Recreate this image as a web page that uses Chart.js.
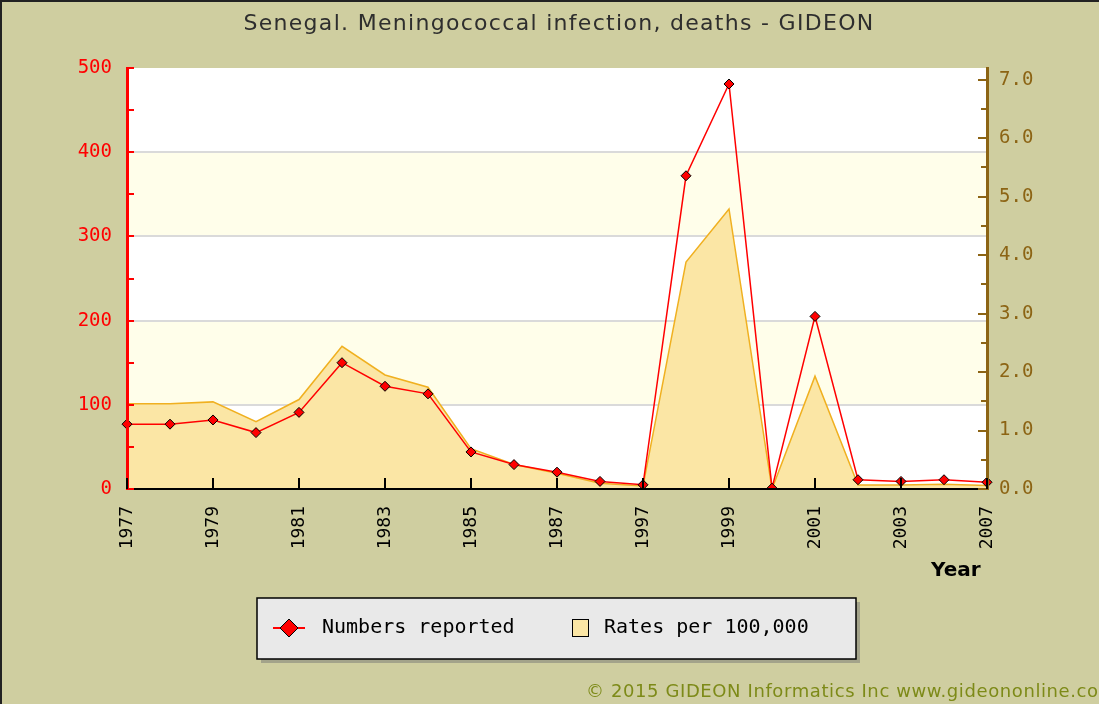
<!DOCTYPE html>
<html>
<head>
<meta charset="utf-8">
<script src="https://cdn.jsdelivr.net/npm/chart.js@4"></script>
<style>
    html, body { margin: 0; padding: 0; background: #cfcea0; }
    #wrap { width: 1099px; height: 704px; }
</style>
</head>
<body>
<div id="wrap"><canvas id="chart" width="1099" height="704"></canvas></div>
<script>
const years = ['1977', '1978', '1979', '1980', '1981', '1982', '1983', '1984', '1985', '1986', '1987',
    '1988', '1997', '1998', '1999', '2000', '2001', '2002', '2003', '2005', '2007'];
const numbersReported = [77, 77, 82, 67, 91, 150, 122, 113, 44, 29, 20, 9, 5, 372, 481, 1, 205, 11, 9, 11, 8];
const ratesPer100k = [1.46, 1.46, 1.49, 1.15, 1.53, 2.44, 1.95, 1.74, 0.69, 0.42, 0.27, 0.10, 0.05,
    3.88, 4.79, 0, 1.93, 0.07, 0.07, 0.08, 0.06];
const leftMax = 500;
const rightMax = 7.2;

const BG = '#cfcea0';
const RED = '#ff0000';
const BROWN = '#8c6414';
const FILL = '#fbe6a5';
const ORANGE = '#f0b020';
const MONO = "'DejaVu Sans Mono', monospace";

// bands, inner ticks, title, legend, footer
const decor = {
    id: 'decor',
    beforeDraw(chart) {
        const { ctx, chartArea: a, scales } = chart;
        ctx.save();
        ctx.fillStyle = BG;
        ctx.fillRect(0, 0, chart.width, chart.height);
        ctx.fillStyle = '#ffffff';
        ctx.fillRect(a.left, a.top, a.right - a.left, a.bottom - a.top);
        ctx.fillStyle = '#fffeea';
        [[100, 200], [300, 400]].forEach(([lo, hi]) => {
            const y1 = scales.y.getPixelForValue(hi);
            const y2 = scales.y.getPixelForValue(lo);
            ctx.fillRect(a.left, y1, a.right - a.left, y2 - y1);
        });
        // frame edges
        ctx.fillStyle = '#222';
        ctx.fillRect(0, 0, chart.width, 2);
        ctx.fillRect(0, 0, 2, chart.height);
        ctx.restore();
    },
    afterDraw(chart) {
        const { ctx, chartArea: a, scales } = chart;
        ctx.save();
        ctx.lineWidth = 2;

        // inner ticks, left axis
        ctx.strokeStyle = RED;
        for (let v = 0; v <= leftMax; v += 50) {
            const y = Math.round(scales.y.getPixelForValue(v));
            ctx.beginPath(); ctx.moveTo(a.left, y); ctx.lineTo(a.left + 7, y); ctx.stroke();
        }
        // inner ticks, right axis
        ctx.strokeStyle = BROWN;
        for (let v = 0; v <= 7; v += 0.5) {
            const y = Math.round(scales.y1.getPixelForValue(v));
            const len = v % 1 === 0 ? 9 : 6;
            ctx.beginPath(); ctx.moveTo(a.right, y); ctx.lineTo(a.right - len, y); ctx.stroke();
        }
        // inner ticks, x axis
        ctx.strokeStyle = '#000';
        years.forEach((_, i) => {
            if (i % 2) return;
            const x = Math.round(scales.x.getPixelForValue(i));
            ctx.beginPath(); ctx.moveTo(x, a.bottom); ctx.lineTo(x, a.bottom - 11); ctx.stroke();
        });

        // title
        ctx.fillStyle = '#2e2e2e';
        ctx.font = "22px 'DejaVu Sans'";
        ctx.letterSpacing = '1.3px';
        ctx.textAlign = 'center';
        ctx.textBaseline = 'middle';
        ctx.fillText('Senegal. Meningococcal infection, deaths - GIDEON', (a.left + a.right) / 2 + 2, 24);
        ctx.letterSpacing = '0px';

        // axis title
        ctx.fillStyle = '#000';
        ctx.font = "bold 20px 'DejaVu Sans'";
        ctx.textAlign = 'left';
        ctx.fillText('Year', 931, 571);

        // legend box
        const lx = 257, ly = 598, lw = 599, lh = 61;
        ctx.fillStyle = '#a3a38a';
        ctx.fillRect(lx + 4, ly + 4, lw, lh);
        ctx.fillStyle = '#e9e9e9';
        ctx.fillRect(lx, ly, lw, lh);
        ctx.strokeStyle = '#000';
        ctx.lineWidth = 1.5;
        ctx.strokeRect(lx, ly, lw, lh);

        const ds = chart.data.datasets;
        const cy = ly + 30;
        ctx.strokeStyle = RED;
        ctx.lineWidth = 2;
        ctx.beginPath(); ctx.moveTo(273, cy); ctx.lineTo(305, cy); ctx.stroke();
        ctx.fillStyle = RED;
        ctx.strokeStyle = '#000';
        ctx.lineWidth = 1;
        ctx.beginPath();
        ctx.moveTo(289, cy - 9); ctx.lineTo(298, cy); ctx.lineTo(289, cy + 9); ctx.lineTo(280, cy);
        ctx.closePath(); ctx.fill(); ctx.stroke();

        ctx.fillStyle = FILL;
        ctx.fillRect(572, cy - 8, 16, 17);
        ctx.strokeRect(572.5, cy - 8.5, 16, 17);

        ctx.fillStyle = '#000';
        ctx.font = '20px ' + MONO;
        ctx.fillText(ds[0].label, 322, cy);
        ctx.fillText(ds[1].label, 604, cy);

        // footer
        ctx.fillStyle = '#7d8a18';
        ctx.font = "18px 'DejaVu Sans'";
        ctx.letterSpacing = '0.6px';
        ctx.fillText('\u00a9 2015 GIDEON Informatics Inc www.gideononline.com', 586, 692);
        ctx.letterSpacing = '0px';
        ctx.restore();
    }
};

new Chart(document.getElementById('chart'), {
    type: 'line',
    data: {
        labels: years,
        datasets: [
            {
                label: 'Numbers reported',
                data: numbersReported,
                yAxisID: 'y',
                borderColor: RED,
                borderWidth: 1.5,
                pointStyle: 'rectRot',
                pointRadius: 5,
                pointBackgroundColor: RED,
                pointBorderColor: '#000',
                pointBorderWidth: 1,
                tension: 0,
                fill: false,
                order: 0
            },
            {
                label: 'Rates per 100,000',
                data: ratesPer100k,
                yAxisID: 'y1',
                borderColor: ORANGE,
                borderWidth: 1.5,
                backgroundColor: FILL,
                pointRadius: 0,
                tension: 0,
                fill: 'origin',
                order: 1
            }
        ]
    },
    options: {
        responsive: false,
        animation: false,
        devicePixelRatio: 1,
        layout: { padding: { top: 68, left: 0, right: 0, bottom: 0 } },
        plugins: {
            legend: { display: false },
            title: { display: false },
            tooltip: { enabled: false }
        },
        scales: {
            x: {
                offset: false,
                grid: { display: false },
                border: { color: '#000', width: 2, z: 1 },
                ticks: {
                    autoSkip: false,
                    minRotation: 90,
                    maxRotation: 90,
                    padding: 9,
                    color: '#000',
                    font: { family: MONO, size: 18 },
                    callback: (v, i) => (i % 2 === 0 ? years[i] : '')
                },
                afterFit: s => { s.height = 215; }
            },
            y: {
                position: 'left',
                min: 0,
                max: leftMax,
                grid: {
                    drawTicks: false,
                    lineWidth: 2,
                    color: c => (c.tick && c.tick.value > 0 && c.tick.value < leftMax ? '#dadada' : 'rgba(0,0,0,0)')
                },
                border: { color: RED, width: 3, z: 1 },
                ticks: {
                    stepSize: 100,
                    padding: 15,
                    color: RED,
                    font: { family: MONO, size: 19 }
                },
                afterFit: s => { s.width = 127; }
            },
            y1: {
                position: 'right',
                min: 0,
                max: rightMax,
                grid: { display: false, drawTicks: false },
                border: { color: BROWN, width: 3, z: 1 },
                ticks: {
                    stepSize: 1,
                    includeBounds: false,
                    padding: 12,
                    color: BROWN,
                    font: { family: MONO, size: 19 },
                    callback: v => v.toFixed(1)
                },
                afterFit: s => { s.width = 112; }
            }
        }
    },
    plugins: [decor]
});
</script>
</body>
</html>
